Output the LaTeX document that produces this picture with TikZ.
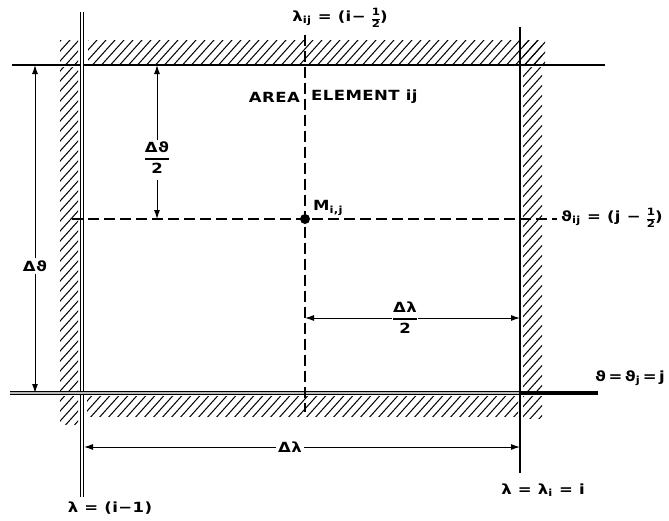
\documentclass[tikz,border=0pt]{standalone}
\usepackage{fontspec}
\setmainfont{DejaVu Sans}
\newfontfamily\labfont[FakeStretch=1.18, LetterSpace=3]{DejaVu Sans}
\usetikzlibrary{arrows.meta}
\setlength\arrayrulewidth{1.3pt}
\newcommand\myhalf{{\fontsize{10}{10}\selectfont\setlength\arrayrulewidth{0.9pt}\renewcommand\arraystretch{1.15}\begin{tabular}{@{}c@{}}1\\\hline 2\end{tabular}}}
\newcommand\myfrac[2]{\renewcommand\arraystretch{1.0}\begin{tabular}{@{}c@{}}#1\\[1pt]\hline\rule{0pt}{14pt}#2\end{tabular}}
\newcommand\hatchbox[4]{%
  \begin{scope}
    \clip (#1,#2) rectangle (#3,#4);
    \foreach \k in {-560,-551,...,690} \draw[hatch] (\k,600) -- ++(540,-600);
  \end{scope}}
\begin{document}
\begin{tikzpicture}[x=1pt,y=-1pt,
  lab/.style={font=\labfont\fontsize{14}{16}\selectfont\bfseries, inner sep=2pt},
  frame/.style={line width=1.3pt},
  dsh/.style={line width=1.2pt, dash pattern=on 11pt off 5pt},
  dim/.style={line width=1pt, -{Latex[length=9pt,width=6pt]}},
  hatch/.style={line width=1pt}]
\useasboundingbox (0,0) rectangle (669,520);

% hatched bands outside the element
\hatchbox{60}{40}{78}{64}
\hatchbox{88}{40}{545}{63}
\hatchbox{60}{67}{78}{390}
\hatchbox{60}{396}{78}{424}
\hatchbox{87}{396}{518}{416}
\hatchbox{523}{40}{542}{63}
\hatchbox{523}{67}{542}{390}
\hatchbox{523}{396}{542}{418}

% line end points
\coordinate (topA) at (12,65);   \coordinate (topB) at (605,65);
\coordinate (leftA) at (82,12);  \coordinate (leftB) at (82,497);
\coordinate (botA) at (10,393);  \coordinate (botM) at (520,393); \coordinate (botB) at (598,393);
\coordinate (rightA) at (520,27); \coordinate (rightB) at (520,473);
\coordinate (vdA) at (305,35);   \coordinate (vdB) at (305,412);
\coordinate (hdA) at (72,219);   \coordinate (hdB) at (557,219);

\draw[frame] (topA) -- (topB);
\draw[line width=0.9pt, double=white, double distance=2.6pt] (leftA) -- (leftB);
\draw[line width=0.9pt, double=gray!55, double distance=1.8pt] (botA) -- (botM);
\draw[line width=3.6pt] (botM) -- (botB);
\draw[frame] (rightA) -- (rightB);
\draw[dsh] (vdA) -- (vdB);
\draw[dsh] (hdA) -- (hdB);

% centre point
\node[circle, fill=black, inner sep=0pt, minimum size=10pt] (M) at (305,219) {};

% labels
\node[lab] (lamij) at (340,19) {λ\textsubscript{ij} = (i− \myhalf)};
\node[lab, anchor=east] (area) at (302,97) {AREA};
\node[lab, anchor=west] (elem) at (309,97) {ELEMENT ij};
\node[lab, anchor=west] (Mlab) at (311,208) {M\textsubscript{i,j}};
\node[lab, anchor=west] (thij) at (559,219) {ϑ\textsubscript{ij} = (j − \myhalf)};
\node[lab, anchor=east] (thj) at (667,378) {ϑ\hspace{0.18em}=\hspace{0.18em}ϑ\textsubscript{j}\hspace{0.18em}=\hspace{0.18em}j};
\node[lab] (lamA) at (110,508) {λ = (i−1)};
\node[lab] (lamB) at (543,490) {λ = λ\textsubscript{i} = i};

% dimension arrows
\coordinate (dtT) at (35,65);   \coordinate (dtB) at (35,393);
\node[lab] (dt) at (35,266) {Δϑ};
\draw[dim] (dt) -- (dtT);
\draw[dim] (dt) -- (dtB);

\coordinate (dt2T) at (157,65); \coordinate (dt2B) at (157,219);
\node[lab, inner sep=1pt] (dt2) at (157,160) {\myfrac{Δϑ}{2}};
\draw[dim] (dt2) -- (dt2T);
\draw[dim] (dt2) -- (dt2B);

\coordinate (dl2L) at (305,318); \coordinate (dl2R) at (520,318);
\node[lab, inner sep=1pt] (dl2) at (405,320) {\myfrac{Δλ}{2}};
\draw[dim] (dl2.west |- dl2L) -- (dl2L);
\draw[dim] (dl2.east |- dl2R) -- (dl2R);

\coordinate (dlL) at (84,447); \coordinate (dlR) at (520,447);
\node[lab] (dl) at (290,447) {Δλ};
\draw[dim] (dl) -- (dlL);
\draw[dim] (dl) -- (dlR);
\end{tikzpicture}
\end{document}
